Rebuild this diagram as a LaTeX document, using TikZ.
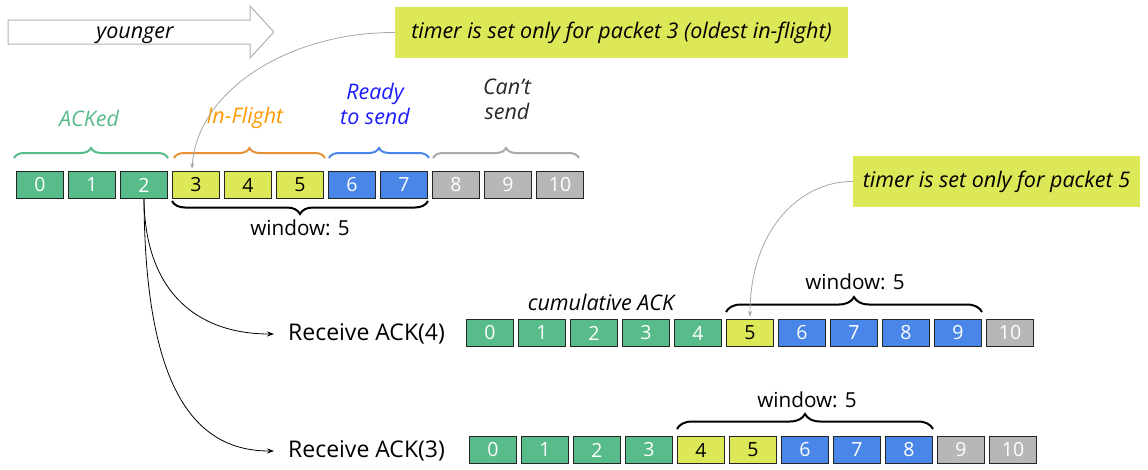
\documentclass[tikz,border=0pt]{standalone}
\usepackage{fontspec}
\setmainfont{Open Sans}
\usetikzlibrary{decorations.pathreplacing,arrows.meta}
\definecolor{ackgreen}{HTML}{57BB8A}
\definecolor{flyyellow}{HTML}{DCE857}
\definecolor{rdyblue}{HTML}{4A86E8}
\definecolor{cantgray}{HTML}{B7B7B7}
\definecolor{lblorange}{HTML}{FF9900}
\definecolor{lblblue}{HTML}{1C1CFF}
\definecolor{bracegreen}{HTML}{57BB8A}
\definecolor{braceorange}{HTML}{E69138}
\definecolor{braceblue}{HTML}{4A86E8}
\definecolor{bracegray}{HTML}{AAAAAA}
\begin{document}
\begin{tikzpicture}[x=1pt,y=-1pt,
  pkt/.style={draw=black!85, line width=1pt, minimum width=47pt, minimum height=27pt, inner sep=0pt, font=\fontsize{19.5}{19.5}\selectfont},
  pg/.style={pkt, fill=ackgreen, text=white},
  py/.style={pkt, fill=flyyellow, text=black},
  pb/.style={pkt, fill=rdyblue, text=white},
  pa/.style={pkt, fill=cantgray, text=white},
  lbl/.style={font=\fontsize{21.5}{25}\selectfont\itshape, align=center, inner sep=0pt},
  winlbl/.style={font=\fontsize{20.7}{20.7}\selectfont, inner sep=0pt},
  mybrace/.style={decorate, decoration={brace, amplitude=#1}, line width=2pt},
  callout/.style={fill=flyyellow, inner sep=0pt, font=\fontsize{21.5}{21.5}\selectfont\itshape},
  ackarrow/.style={-{Stealth[length=7pt,width=5pt]}, line width=0.8pt, black},
  timerarrow/.style={-{Stealth[length=6pt,width=4pt]}, line width=0.8pt, black!35},
  recv/.style={anchor=west, inner xsep=14pt, inner ysep=0pt, font=\fontsize{23}{23}\selectfont}
]
\useasboundingbox (0,0) rectangle (1148,469);

% younger arrow
\draw[black!30, line width=1pt] (8,20) -- (250,20) -- (250,6) -- (274,32) -- (250,58) -- (250,44) -- (8,44) -- cycle;
\node[lbl] (young) at (135,35) {younger};

% callouts
\node[callout, minimum width=453pt, minimum height=51pt] (c1) at (621.5,32.5) {timer is set only for packet 3 (oldest in-flight)};
\node[callout, minimum width=287pt, minimum height=51pt] (c2) at (996.5,181.5) {timer is set only for packet 5};

% top labels
\node[lbl, text=ackgreen] (lack) at (89,118) {ACKed};
\node[lbl, text=lblorange] (lfly) at (245,118) {In-Flight};
\node[lbl, text=lblblue] (lrdy) at (375,104) {Ready\\to send};
\node[lbl, text=black!85] (lcant) at (507,99) {Can’t\\send};

% top row
\foreach \i/\s in {0/pg,1/pg,2/pg,3/py,4/py,5/py,6/pb,7/pb,8/pa,9/pa,10/pa}
  \node[\s] (t\i) at ({40+52*\i},185) {\i};

% middle row
\foreach \i/\s in {0/pg,1/pg,2/pg,3/pg,4/pg,5/py,6/pb,7/pb,8/pb,9/pb,10/pa}
  \node[\s] (m\i) at ({490+52*\i},333) {\i};

% bottom row
\foreach \i/\s in {0/pg,1/pg,2/pg,3/pg,4/py,5/py,6/pb,7/pb,8/pb,9/pa,10/pa}
  \node[\s] (b\i) at ({493+52*\i},450) {\i};

% top braces
\draw[mybrace=10pt, bracegreen] ([xshift=-2pt,yshift=13pt]t0.north west) -- ([xshift=0pt,yshift=13pt]t2.north east);
\draw[mybrace=10pt, braceorange] ([xshift=2pt,yshift=13pt]t3.north west) -- ([xshift=1pt,yshift=13pt]t5.north east);
\draw[mybrace=10pt, braceblue] ([xshift=1pt,yshift=13pt]t6.north west) -- ([xshift=1pt,yshift=13pt]t7.north east);
\draw[mybrace=10pt, bracegray] ([xshift=1pt,yshift=13pt]t8.north west) -- ([xshift=-5pt,yshift=13pt]t10.north east);

% window braces
\draw[mybrace=13pt, black] ([yshift=-2pt]t7.south east) -- ([yshift=-2pt]t3.south west);
\node[winlbl] (w1) at (300,228) {window: 5};
\draw[mybrace=15pt, black] ([yshift=7pt]m5.north west) -- ([yshift=7pt]m9.north east);
\node[winlbl] (w2) at (855,282) {window: 5};
\draw[mybrace=15pt, black] ([yshift=7pt]b4.north west) -- ([yshift=7pt]b8.north east);
\node[winlbl] (w3) at (807,400) {window: 5};

\node[lbl] (cum) at (601,302) {cumulative ACK};

% receive labels
\node[recv] (r4) at (274,334) {Receive ACK(4)};
\node[recv] (r3) at (274,451) {Receive ACK(3)};

% ack arrows
\draw[ackarrow] (t2.south) .. controls (145,290) and (195,334) .. (r4.west);
\draw[ackarrow] (t2.south) .. controls (145,390) and (195,451) .. (r3.west);

% timer arrows
\draw[timerarrow] (c1.west) .. controls (290,32) and (197,90) .. ([xshift=-4pt,yshift=2pt]t3.north);
\draw[timerarrow] (c2.west) .. controls (800,181) and (750,230) .. ([yshift=2pt]m5.north);
\end{tikzpicture}
\end{document}
